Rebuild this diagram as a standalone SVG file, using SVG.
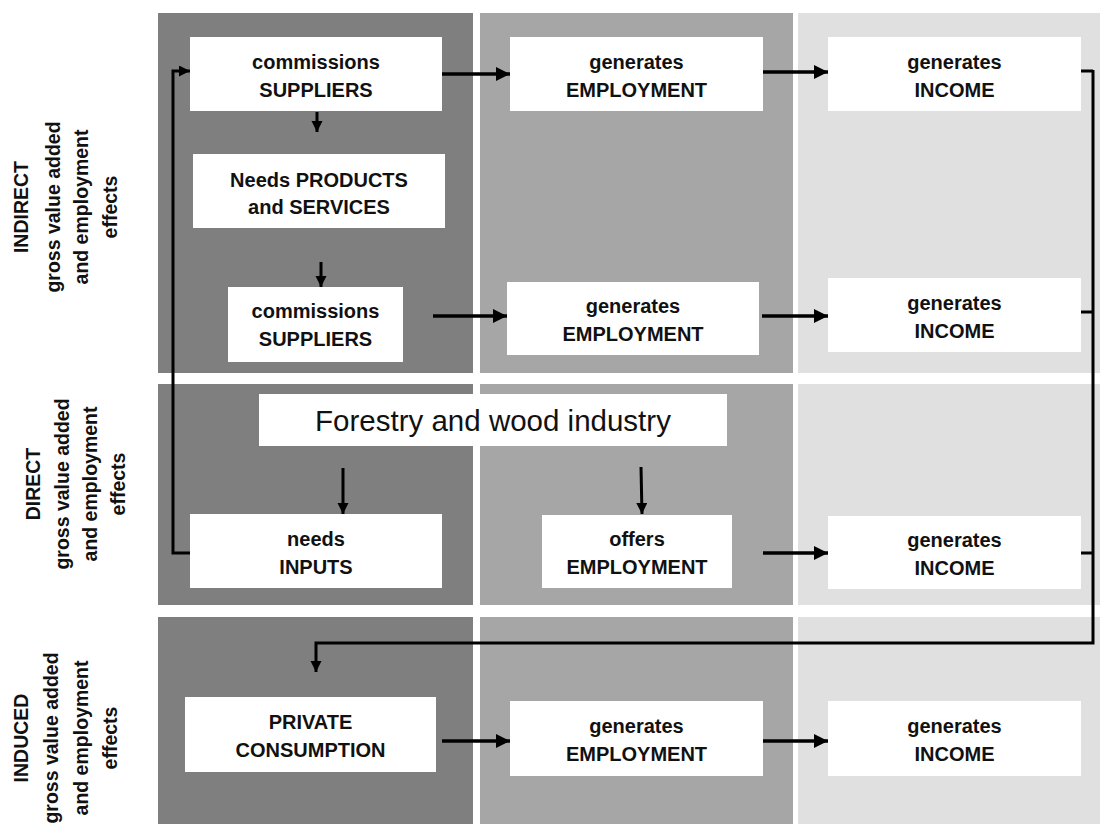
<svg xmlns="http://www.w3.org/2000/svg" width="1100" height="824" viewBox="0 0 1100 824">
<style>
.dark{fill:#7f7f7f}
.mid{fill:#a6a6a6}
.light{fill:#e0e0e0}
.box{fill:#ffffff}
.t{font-family:"Liberation Sans",Arial,sans-serif;font-weight:bold;font-size:20px;fill:#111;text-anchor:middle}
.big{font-family:"Liberation Sans",Arial,sans-serif;font-size:29.5px;fill:#111;text-anchor:middle}
.side{font-family:"Liberation Sans",Arial,sans-serif;font-size:19.5px;fill:#111;text-anchor:middle}
.sideb{font-weight:bold}
.c{fill:none;stroke:#000;stroke-width:3.5}
.cs{fill:none;stroke:#000;stroke-width:3}
</style>
<defs>
<marker id="ah" markerUnits="userSpaceOnUse" markerWidth="16" markerHeight="16" refX="14" refY="7" orient="auto">
<path d="M0,0 L14,7 L0,14 z" fill="#000"/>
</marker>
<marker id="ahs" markerUnits="userSpaceOnUse" markerWidth="12" markerHeight="12" refX="11" refY="5.5" orient="auto">
<path d="M0,0 L11,5.5 L0,11 z" fill="#000"/>
</marker>
</defs>

<g id="panels">
<rect class="dark" x="158" y="13" width="315" height="360"/>
<rect class="mid" x="480" y="13" width="313" height="360"/>
<rect class="light" x="798" y="13" width="302" height="360"/>
<rect class="dark" x="158" y="384" width="315" height="221"/>
<rect class="mid" x="480" y="384" width="313" height="221"/>
<rect class="light" x="798" y="384" width="302" height="221"/>
<rect class="dark" x="158" y="617" width="315" height="207"/>
<rect class="mid" x="480" y="617" width="313" height="207"/>
<rect class="light" x="798" y="617" width="302" height="207"/>
</g>

<g id="labels">
<g transform="translate(0,207) rotate(-90)">
<text class="side sideb" x="0" y="28">INDIRECT</text>
<text class="side sideb" x="0" y="60">gross value added</text>
<text class="side sideb" x="0" y="88">and employment</text>
<text class="side sideb" x="0" y="117">effects</text>
</g>
<g transform="translate(0,484) rotate(-90)">
<text class="side sideb" x="0" y="40">DIRECT</text>
<text class="side sideb" x="0" y="69">gross value added</text>
<text class="side sideb" x="0" y="97">and employment</text>
<text class="side sideb" x="0" y="125">effects</text>
</g>
<g transform="translate(0,738) rotate(-90)">
<text class="side sideb" x="0" y="28">INDUCED</text>
<text class="side sideb" x="0" y="58">gross value added</text>
<text class="side sideb" x="0" y="88">and employment</text>
<text class="side sideb" x="0" y="117">effects</text>
</g>
</g>

<g id="n1"><rect class="box" x="190" y="37" width="252" height="74"/>
<text class="t" x="316" y="69">commissions</text><text class="t" x="316" y="97">SUPPLIERS</text></g>
<g id="n2"><rect class="box" x="193" y="154" width="252" height="74"/>
<text class="t" x="319" y="187">Needs PRODUCTS</text><text class="t" x="319" y="214">and SERVICES</text></g>
<g id="n3"><rect class="box" x="228" y="287" width="175" height="75"/>
<text class="t" x="315.5" y="318">commissions</text><text class="t" x="315.5" y="346">SUPPLIERS</text></g>
<g id="n4"><rect class="box" x="510" y="37" width="253" height="74"/>
<text class="t" x="636.5" y="69">generates</text><text class="t" x="636.5" y="97">EMPLOYMENT</text></g>
<g id="n5"><rect class="box" x="507" y="282" width="252" height="73"/>
<text class="t" x="633" y="313">generates</text><text class="t" x="633" y="341">EMPLOYMENT</text></g>
<g id="n6"><rect class="box" x="828" y="37" width="253" height="74"/>
<text class="t" x="954.5" y="69">generates</text><text class="t" x="954.5" y="97">INCOME</text></g>
<g id="n7"><rect class="box" x="828" y="278" width="253" height="74"/>
<text class="t" x="954.5" y="310">generates</text><text class="t" x="954.5" y="338">INCOME</text></g>
<g id="n8"><rect class="box" x="259" y="394" width="468" height="52"/>
<text class="big" x="493" y="431">Forestry and wood industry</text></g>
<g id="n9"><rect class="box" x="190" y="514" width="252" height="74"/>
<text class="t" x="316" y="546">needs</text><text class="t" x="316" y="574">INPUTS</text></g>
<g id="n10"><rect class="box" x="542" y="515" width="190" height="73"/>
<text class="t" x="637" y="546">offers</text><text class="t" x="637" y="574">EMPLOYMENT</text></g>
<g id="n11"><rect class="box" x="828" y="516" width="253" height="73"/>
<text class="t" x="954.5" y="547">generates</text><text class="t" x="954.5" y="575">INCOME</text></g>
<g id="n12"><rect class="box" x="185" y="697" width="251" height="75"/>
<text class="t" x="310.5" y="729">PRIVATE</text><text class="t" x="310.5" y="757">CONSUMPTION</text></g>
<g id="n13"><rect class="box" x="510" y="701" width="253" height="75"/>
<text class="t" x="636.5" y="733">generates</text><text class="t" x="636.5" y="761">EMPLOYMENT</text></g>
<g id="n14"><rect class="box" x="828" y="701" width="253" height="75"/>
<text class="t" x="954.5" y="733">generates</text><text class="t" x="954.5" y="761">INCOME</text></g>

<g id="connectors">
<path class="c" d="M442,74 H510" marker-end="url(#ah)"/>
<path class="c" d="M763,72 H828" marker-end="url(#ah)"/>
<path class="cs" d="M317,112 V132" marker-end="url(#ahs)"/>
<path class="cs" d="M321,262 V287" marker-end="url(#ahs)"/>
<path class="c" d="M433,316 H507" marker-end="url(#ah)"/>
<path class="c" d="M762,316 H828" marker-end="url(#ah)"/>
<path class="cs" d="M343,468 V514" marker-end="url(#ahs)"/>
<path class="cs" d="M641,467 L642,514" marker-end="url(#ahs)"/>
<path class="c" d="M763,553 H828" marker-end="url(#ah)"/>
<path class="c" d="M442,741 H510" marker-end="url(#ah)"/>
<path class="c" d="M763,741 H828" marker-end="url(#ah)"/>
<path class="cs" d="M190,553 H173 V71 H190" marker-end="url(#ahs)"/>
<path class="cs" d="M1081,71 H1093"/>
<path class="cs" d="M1081,312 H1093"/>
<path class="cs" d="M1081,553 H1093"/>
<path class="cs" d="M1093,70 V643 H316 V672" marker-end="url(#ahs)"/>
</g>
</svg>
